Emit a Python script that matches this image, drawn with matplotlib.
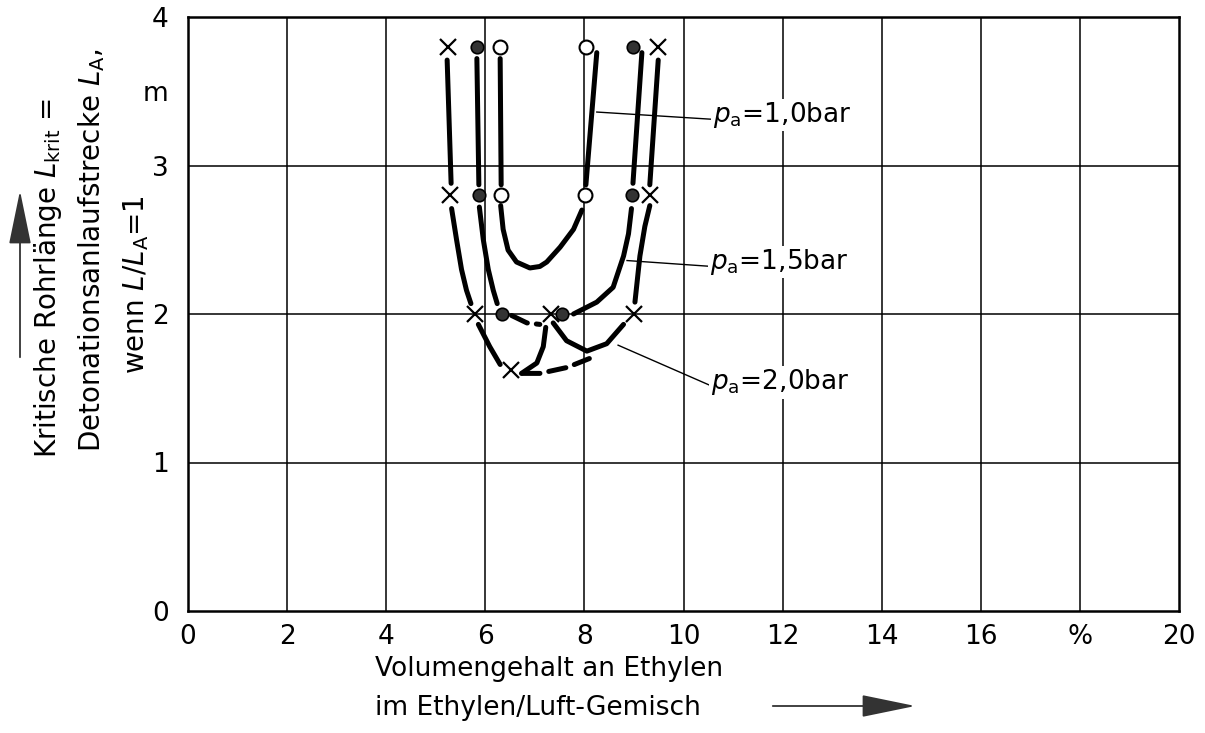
import matplotlib
matplotlib.use('Agg')
import matplotlib.pyplot as plt
from matplotlib.patches import FancyArrowPatch

# Messpunkte (Volumengehalt in %, kritische Laenge in m)
x_cross = [5.25, 5.29, 5.79, 6.52, 7.33, 9.0, 9.32, 9.49]
y_cross = [3.8, 2.8, 2.0, 1.62, 2.0, 2.0, 2.8, 3.8]
x_dot = [5.83, 5.87, 6.34, 7.55, 8.96, 8.98]
y_dot = [3.8, 2.8, 2.0, 2.0, 2.8, 3.8]
x_open = [6.30, 6.32, 8.01, 8.03]
y_open = [3.8, 2.8, 2.8, 3.8]

# Kurvenstuecke p_a = 1,0 bar
c10_left = ([6.30, 6.32], [3.72, 2.87])
c10_u = ([6.31, 6.36, 6.46, 6.63, 6.90, 7.10, 7.24, 7.51, 7.78, 7.95],
         [2.73, 2.57, 2.43, 2.35, 2.31, 2.32, 2.35, 2.45, 2.57, 2.70])
c10_right = ([8.03, 8.25], [2.87, 3.76])

# Kurvenstuecke p_a = 1,5 bar
c15_left = ([5.83, 5.87], [3.72, 2.87])
c15_low = ([5.88, 5.96, 6.06, 6.16, 6.24], [2.72, 2.50, 2.30, 2.16, 2.07])
c15_dash = ([6.53, 6.84, 7.10], [1.99, 1.94, 1.93])
c15_right = ([7.78, 8.25, 8.58, 8.79, 8.89, 8.95], [2.00, 2.08, 2.18, 2.39, 2.54, 2.71])
c15_top = ([8.98, 9.16], [2.88, 3.76])

# Kurvenstuecke p_a = 2,0 bar
c20_left = ([5.23, 5.31], [3.71, 2.88])
c20_low = ([5.32, 5.42, 5.52, 5.62, 5.71], [2.71, 2.50, 2.30, 2.16, 2.07])
c20_down = ([5.86, 6.09, 6.30], [1.93, 1.78, 1.66])
c20_dash = ([6.75, 7.10, 7.65, 8.10], [1.60, 1.60, 1.64, 1.70])
c20_up = ([6.73, 7.04, 7.17, 7.22], [1.60, 1.67, 1.78, 1.91])
c20_mid = ([7.37, 7.64, 8.05, 8.45, 8.79], [1.94, 1.82, 1.75, 1.80, 1.93])
c20_right = ([9.02, 9.12, 9.22, 9.32], [2.08, 2.39, 2.59, 2.73])
c20_top = ([9.32, 9.49], [2.87, 3.71])

labels = [r'$p_\mathrm{a}$=1,0bar', r'$p_\mathrm{a}$=1,5bar', r'$p_\mathrm{a}$=2,0bar']
label_from = [(8.25, 3.36), (8.86, 2.36), (8.68, 1.79)]
label_at = [(10.64, 3.31), (10.58, 2.32), (10.60, 1.51)]

x_ticks = [0, 2, 4, 6, 8, 10, 12, 14, 16, 18, 20]
x_ticklabels = ['0', '2', '4', '6', '8', '10', '12', '14', '16', '%', '20']
y_ticks = [0, 1, 2, 3, 3.5, 4]
y_ticklabels = ['0', '1', '2', '3', 'm', '4']

fs = 19
W, H = 1205, 733
fig = plt.figure(figsize=(12.05, 7.33), dpi=100)
ax = fig.add_axes([188 / W, 1 - 611 / H, (1179 - 188) / W, (611 - 17) / H])
ax.set_xlim(0, 20)
ax.set_ylim(0, 4)

for gx in range(2, 20, 2):
    ax.axvline(gx, color='black', lw=1.1, zorder=1)
for gy in [1, 2, 3]:
    ax.axhline(gy, color='black', lw=1.1, zorder=1)

solid = [c10_left, c10_u, c10_right, c15_left, c15_low, c15_right, c15_top,
         c20_left, c20_low, c20_down, c20_up, c20_mid, c20_right, c20_top]
for xs, ys in solid:
    ax.plot(xs, ys, color='black', lw=3.6, solid_capstyle='round',
            solid_joinstyle='round', zorder=3)
for xs, ys in [c15_dash, c20_dash]:
    ax.plot(xs, ys, color='black', lw=3.6, dashes=(3.5, 1.8),
            dash_capstyle='round', dash_joinstyle='round', zorder=3)

ax.plot(x_cross, y_cross, 'x', color='black', ms=12, mew=1.6, zorder=4)
ax.plot(x_dot, y_dot, 'o', mfc='#333333', mec='black', ms=9, mew=1.2, zorder=4)
ax.plot(x_open, y_open, 'o', mfc='white', mec='black', ms=10, mew=1.5, zorder=4)

for lab, p0, p1 in zip(labels, label_from, label_at):
    ax.plot([p0[0], p1[0]], [p0[1], p1[1]], color='black', lw=1.0, zorder=2)
    ax.text(p1[0] - 0.05, p1[1] + 0.03, lab, fontsize=fs, ha='left', va='center',
            zorder=5, bbox=dict(facecolor='white', edgecolor='none', pad=1))

ax.set_xticks(x_ticks)
ax.set_xticklabels(x_ticklabels)
ax.set_yticks(y_ticks)
ax.set_yticklabels(y_ticklabels)
ax.tick_params(length=0, labelsize=fs)
ax.tick_params(axis='x', pad=9)
ax.tick_params(axis='y', pad=14)
for sp in ax.spines.values():
    sp.set_linewidth(1.8)

# Achsbeschriftung y
fig.text(48 / W, 1 - 458 / H, r'Kritische Rohrlänge $L_\mathrm{krit}$ =',
         rotation=90, ha='center', va='bottom', fontsize=20)
fig.text(92 / W, 1 - 452 / H, r'Detonationsanlaufstrecke $L_\mathrm{A}$,',
         rotation=90, ha='center', va='bottom', fontsize=20)
fig.text(136 / W, 1 - 285 / H, r'wenn $L/L_\mathrm{A}$=1',
         rotation=90, ha='center', va='center', fontsize=20)
fig.patches.append(FancyArrowPatch(
    (20 / W, 1 - 360 / H), (20 / W, 1 - 188 / H), transform=fig.transFigure,
    arrowstyle='-|>,head_length=1.7,head_width=0.35', mutation_scale=20,
    color='#333333', lw=1.3))

# Achsbeschriftung x
fig.text(375 / W, 1 - 676 / H, 'Volumengehalt an Ethylen', ha='left', va='baseline', fontsize=fs)
fig.text(375 / W, 1 - 715 / H, 'im Ethylen/Luft-Gemisch', ha='left', va='baseline', fontsize=fs)
fig.patches.append(FancyArrowPatch(
    (770 / W, 1 - 706 / H), (918 / W, 1 - 706 / H), transform=fig.transFigure,
    arrowstyle='-|>,head_length=1.7,head_width=0.35', mutation_scale=20,
    color='#333333', lw=1.3))

fig.savefig('out.png', dpi=100)
plt.close(fig)
